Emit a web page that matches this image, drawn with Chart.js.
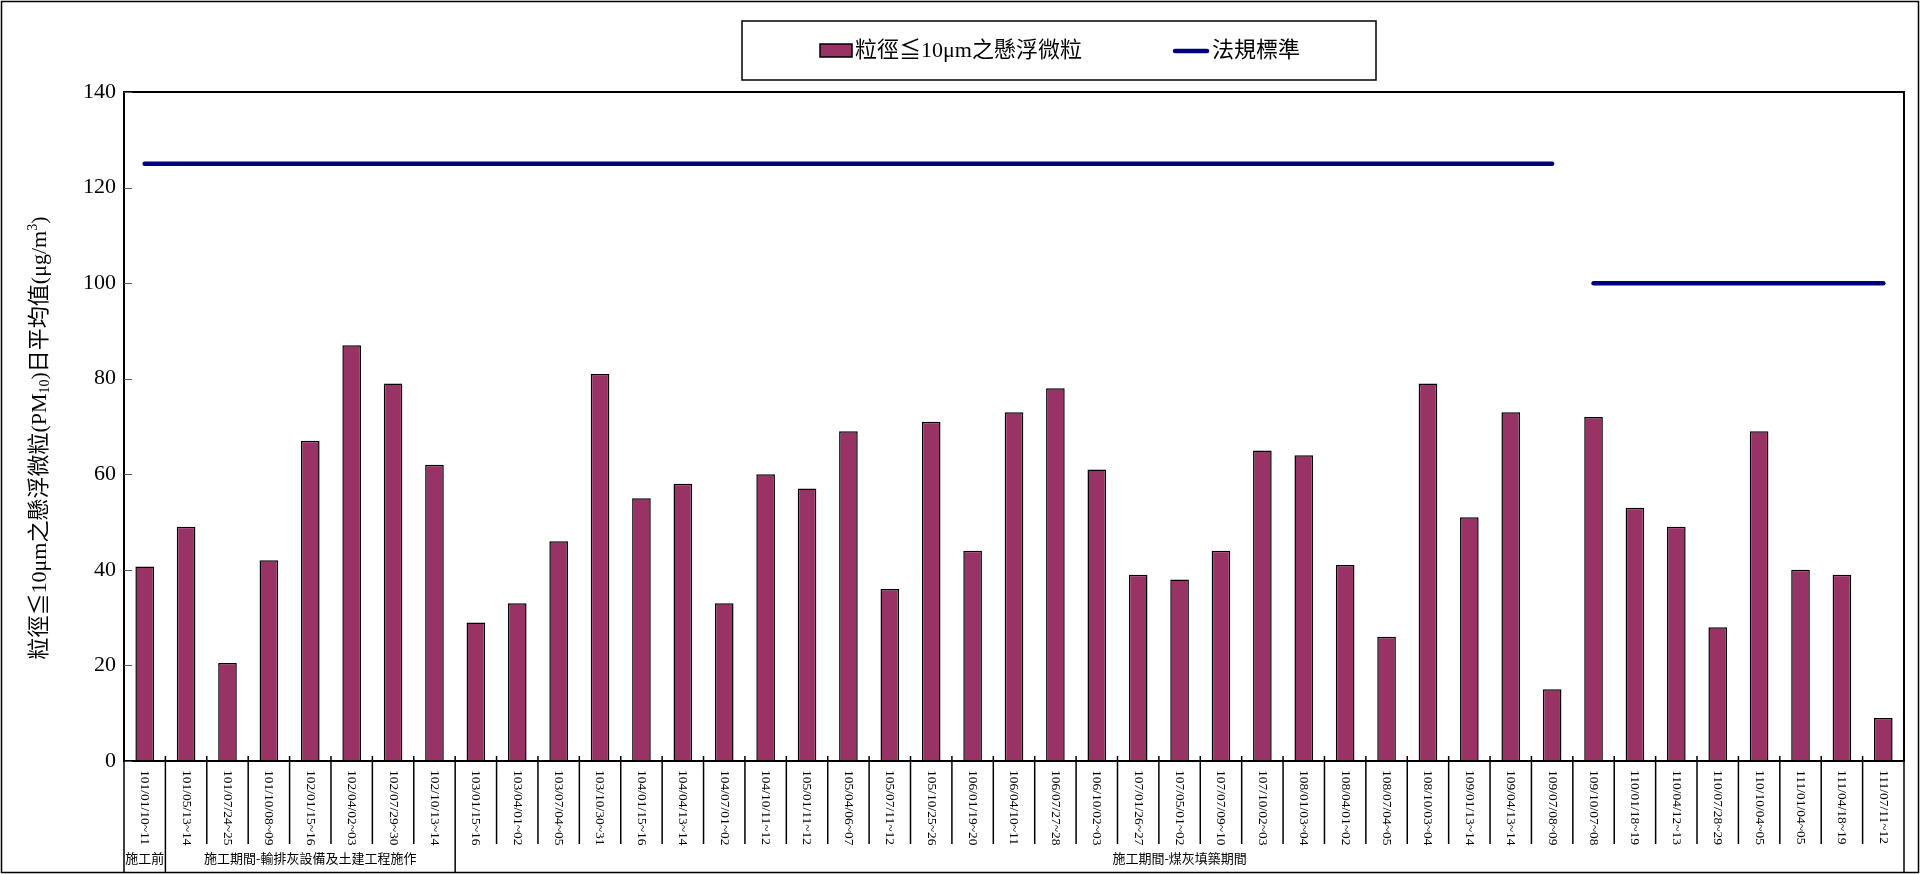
<!DOCTYPE html>
<html>
<head>
<meta charset="utf-8">
<script src="https://cdn.jsdelivr.net/npm/chart.js@4.4.1/dist/chart.umd.min.js"></script>
<style>
html,body{margin:0;padding:0;background:#fff;}
#wrap{width:1921px;height:874px;position:relative;}
</style>
</head>
<body>
<div id="wrap"><canvas id="c" width="1921" height="874"></canvas></div>
<script>
const categories = [
  '101/01/10~11','101/05/13~14','101/07/24~25','101/10/08~09','102/01/15~16','102/04/02~03',
  '102/07/29~30','102/10/13~14','103/01/15~16','103/04/01~02','103/07/04~05','103/10/30~31',
  '104/01/15~16','104/04/13~14','104/07/01~02','104/10/11~12','105/01/11~12','105/04/06~07',
  '105/07/11~12','105/10/25~26','106/01/19~20','106/04/10~11','106/07/27~28','106/10/02~03',
  '107/01/26~27','107/05/01~02','107/07/09~10','107/10/02~03','108/01/03~04','108/04/01~02',
  '108/07/04~05','108/10/03~04','109/01/13~14','109/04/13~14','109/07/08~09','109/10/07~08',
  '110/01/18~19','110/04/12~13','110/07/28~29','110/10/04~05','111/01/04~05','111/04/18~19',
  '111/07/11~12'
];
const pm10 = [
  40.7, 49, 20.5, 42, 67, 87, 79, 62, 29, 33, 46, 81,
  55, 58, 33, 60, 57, 69, 36, 71, 44, 73, 78, 61,
  39, 38, 44, 65, 64, 41, 26, 79, 51, 73, 15, 72,
  53, 49, 28, 69, 40, 39, 9
];
const standardOld = [
  125,125,125,125,125,125,125,125,125,125,125,125,
  125,125,125,125,125,125,125,125,125,125,125,125,
  125,125,125,125,125,125,125,125,125,125,125,null,
  null,null,null,null,null,null,null
];
const standardNew = [
  null,null,null,null,null,null,null,null,null,null,null,null,
  null,null,null,null,null,null,null,null,null,null,null,null,
  null,null,null,null,null,null,null,null,null,null,null,100,
  100,100,100,100,100,100,100
];
const yTicks = [0, 20, 40, 60, 80, 100, 120, 140];
const groupLabels = ['施工前', '施工期間-輸排灰設備及土建工程施作', '施工期間-煤灰填築期間'];
const groupSpans = [1, 7, 35];
const seriesNames = ['粒徑≦10μm之懸浮微粒', '法規標準'];
const yTitleParts = [
  {t:'粒徑≦10μm之懸浮微粒(PM', s:0},
  {t:'10', s:1},
  {t:')日平均值(μg/m', s:0},
  {t:'3', s:-1},
  {t:')', s:0}
];

const FONT = '"Liberation Serif", "Noto Sans CJK TC", serif';
const BAR = '#993366';
const NAVY = '#000080';

const decor = {
  id: 'decor',
  afterDraw(chart) {
    const ctx = chart.ctx;
    const a = chart.chartArea;
    const xs = chart.scales.x, ys = chart.scales.y;
    const n = categories.length;
    const cw = (a.right - a.left) / n;
    const labTop = 770, sepBottom = 844, rowBottom = 872;
    ctx.save();
    // plot frame
    ctx.strokeStyle = '#000';
    ctx.lineWidth = 2;
    ctx.strokeRect(a.left, a.top, a.right - a.left, a.bottom - a.top);
    // y inner ticks
    ctx.lineWidth = 1;
    ctx.strokeStyle = '#555';
    yTicks.forEach(v => {
      const y = Math.round(ys.getPixelForValue(v)) + 0.5;
      ctx.beginPath(); ctx.moveTo(a.left, y); ctx.lineTo(a.left + 8, y); ctx.stroke();
    });
    // x ticks / separators
    ctx.strokeStyle = '#000';
    ctx.lineWidth = 1.5;
    for (let i = 0; i <= n; i++) {
      const x = a.left + i * cw;
      ctx.beginPath();
      ctx.moveTo(x, (i > 0 && i < n) ? a.bottom - 5 : a.bottom);
      ctx.lineTo(x, sepBottom);
      ctx.stroke();
    }
    // category labels rotated
    ctx.fillStyle = '#000';
    ctx.font = '13.5px "Liberation Serif", serif';
    ctx.textAlign = 'left';
    ctx.textBaseline = 'middle';
    categories.forEach((c, i) => {
      const x = xs.getPixelForValue(i);
      ctx.save();
      ctx.translate(x, labTop);
      ctx.rotate(Math.PI / 2);
      ctx.fillText(c, 0, 0);
      ctx.restore();
    });
    // group row
    let idx = 0;
    ctx.font = '13px "Liberation Serif", "Noto Sans CJK TC", sans-serif';
    ctx.textAlign = 'center';
    ctx.textBaseline = 'middle';
    const bounds = [0];
    groupSpans.forEach(s => { idx += s; bounds.push(idx); });
    bounds.forEach(b => {
      const x = a.left + b * cw;
      ctx.beginPath(); ctx.moveTo(x, sepBottom); ctx.lineTo(x, rowBottom); ctx.stroke();
    });
    groupLabels.forEach((g, k) => {
      const x0 = a.left + bounds[k] * cw, x1 = a.left + bounds[k + 1] * cw;
      ctx.fillText(g, (x0 + x1) / 2, 860);
    });
    // outer border
    ctx.lineWidth = 1.5;
    ctx.strokeRect(1.5, 1.5, 1917, rowBottom - 1);
    // y title
    ctx.save();
    ctx.translate(40, 438);
    ctx.rotate(-Math.PI / 2);
    ctx.textAlign = 'left';
    ctx.textBaseline = 'middle';
    const fontFor = p => (p.s === 0 ? '22px ' : '14px ') + FONT;
    let total = 0;
    yTitleParts.forEach(p => { ctx.font = fontFor(p); total += ctx.measureText(p.t).width; });
    let cx = -total / 2;
    yTitleParts.forEach(p => {
      ctx.font = fontFor(p);
      const dy = p.s === 1 ? 5 : (p.s === -1 ? -7 : 0);
      ctx.fillText(p.t, cx, dy);
      cx += ctx.measureText(p.t).width;
    });
    ctx.restore();
    // legend
    ctx.lineWidth = 1.5;
    ctx.strokeStyle = '#000';
    ctx.strokeRect(742, 21, 634, 59);
    ctx.fillStyle = BAR;
    ctx.fillRect(820, 44, 32, 13);
    ctx.strokeRect(820, 44, 32, 13);
    ctx.fillStyle = '#000';
    ctx.font = '22px ' + FONT;
    ctx.textAlign = 'left';
    ctx.textBaseline = 'middle';
    ctx.fillText(seriesNames[0], 855, 51);
    ctx.strokeStyle = NAVY;
    ctx.lineWidth = 4.5;
    ctx.lineCap = 'round';
    ctx.beginPath(); ctx.moveTo(1175, 51); ctx.lineTo(1207, 51); ctx.stroke();
    ctx.fillText(seriesNames[1], 1212, 51);
    ctx.restore();
  }
};

new Chart(document.getElementById('c'), {
  data: {
    labels: categories,
    datasets: [
      {
        type: 'bar', label: seriesNames[0], data: pm10,
        backgroundColor: BAR, borderColor: '#000', borderWidth: 1.5,
        barPercentage: 0.45, categoryPercentage: 1, order: 2
      },
      {
        type: 'line', label: seriesNames[1], data: standardOld,
        borderColor: NAVY, backgroundColor: NAVY, borderWidth: 4.5,
        pointRadius: 0, spanGaps: false, borderCapStyle: 'round', order: 0
      },
      {
        type: 'line', label: seriesNames[1], data: standardNew,
        borderColor: NAVY, backgroundColor: NAVY, borderWidth: 4.5,
        pointRadius: 0, spanGaps: false, borderCapStyle: 'round', order: 0
      }
    ]
  },
  options: {
    responsive: false,
    animation: false,
    devicePixelRatio: 1,
    layout: { padding: { left: 0, top: 92, right: 17, bottom: 0 } },
    plugins: { legend: { display: false }, tooltip: { enabled: false } },
    scales: {
      x: {
        ticks: { display: false },
        grid: { display: false, drawTicks: false },
        border: { display: false },
        afterFit(s) { s.height = 113; }
      },
      y: {
        min: 0, max: 140,
        ticks: { stepSize: 20, color: '#000', padding: 8, font: { family: FONT, size: 22 } },
        grid: { display: false, drawTicks: false },
        border: { display: false },
        afterFit(s) { s.width = 124; }
      }
    }
  },
  plugins: [decor]
});
</script>
</body>
</html>
